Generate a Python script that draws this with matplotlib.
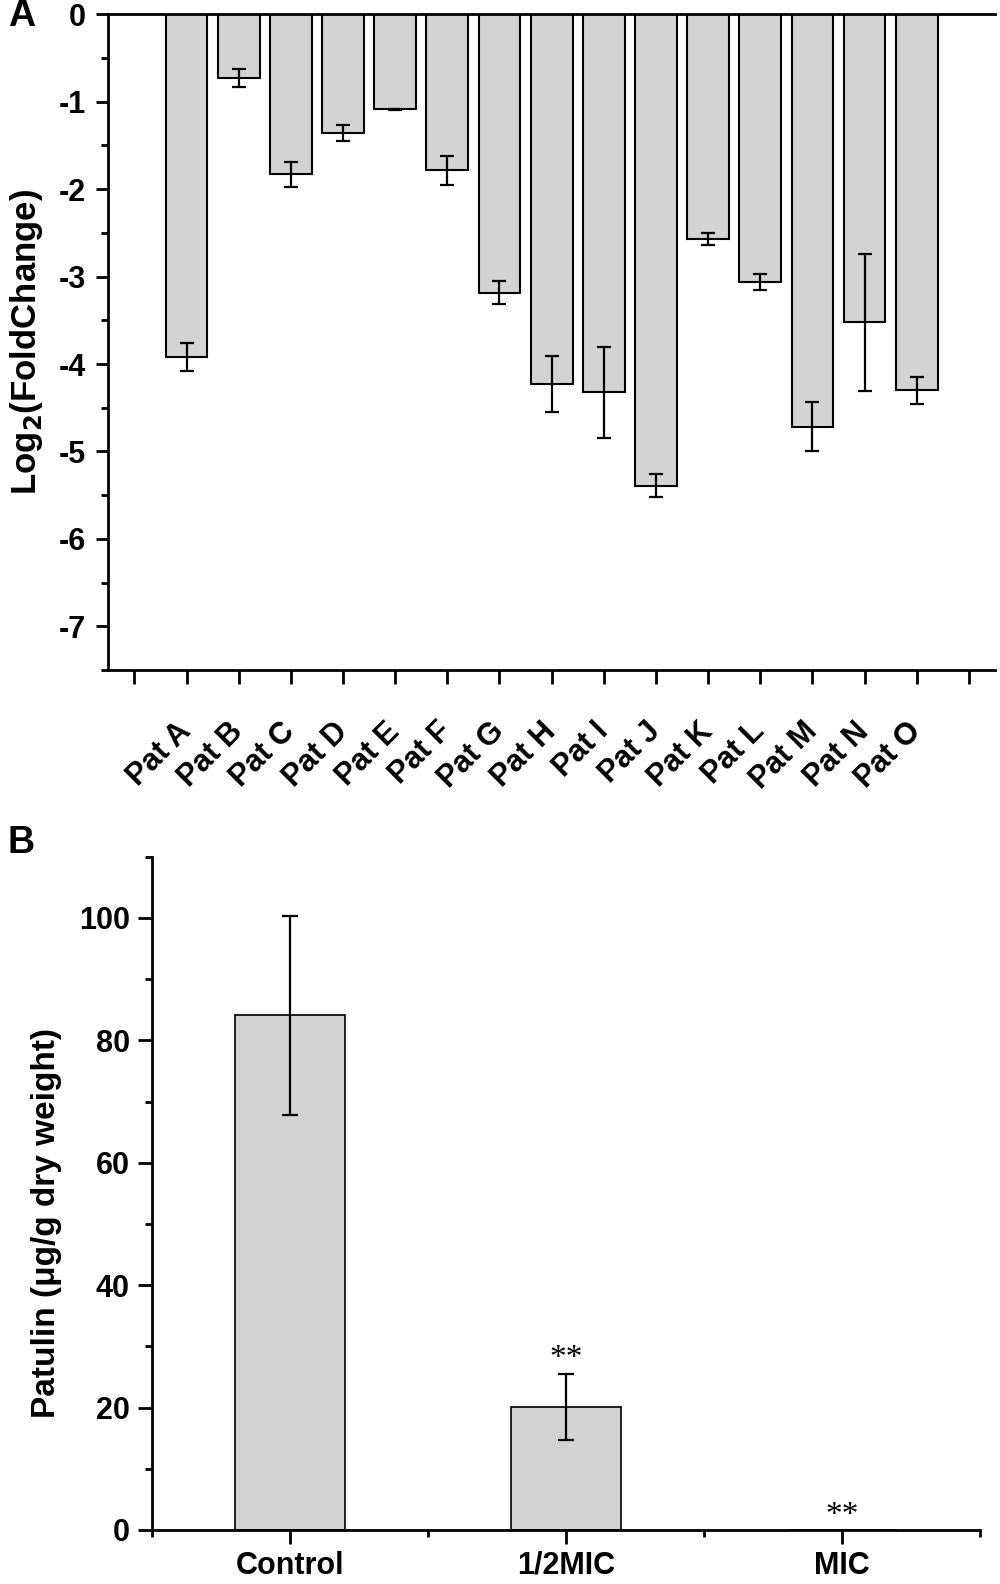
import matplotlib
matplotlib.use('Agg')
import matplotlib.pyplot as plt
import numpy as np

plt.rcParams.update({
    "font.family": ["Liberation Sans", "DejaVu Sans"],
    "font.weight": "bold",
    "axes.linewidth": 2.0,
})

# panel A: log2 fold change of patulin cluster genes
genes = ["Pat A", "Pat B", "Pat C", "Pat D", "Pat E", "Pat F", "Pat G", "Pat H",
         "Pat I", "Pat J", "Pat K", "Pat L", "Pat M", "Pat N", "Pat O"]
log2fc = [-3.92, -0.73, -1.83, -1.355, -1.085, -1.785, -3.185, -4.225,
          -4.325, -5.39, -2.57, -3.06, -4.72, -3.525, -4.30]
log2fc_err = [0.165, 0.10, 0.143, 0.09, 0.006, 0.168, 0.13, 0.32,
              0.52, 0.133, 0.067, 0.092, 0.28, 0.78, 0.153]

# panel B: patulin content
treatments = ["Control", "1/2MIC", "MIC"]
patulin = [84.1, 20.1, 0.0]
patulin_err = [16.3, 5.4, 0.0]
signif = ["", "**", "**"]

bar_color = "#d3d3d3"

fig = plt.figure(figsize=(10, 15.84), dpi=100)

# ---------------- panel A ----------------
axA = fig.add_axes([0.1083, 0.577, 0.8867, 0.414])
xA = np.arange(1, len(genes) + 1)
axA.bar(xA, log2fc, width=0.8, color=bar_color, edgecolor="black", linewidth=1.5)
axA.errorbar(xA, log2fc, yerr=log2fc_err, fmt="none", ecolor="black",
             elinewidth=1.6, capsize=5, capthick=1.6)
axA.set_xlim(-0.5, len(genes) + 1.5)
axA.set_ylim(-7.5, 0)
axA.set_yticks(np.arange(-7, 1, 1))
axA.set_yticks(np.arange(-7.5, 0, 1), minor=True)
axA.set_yticklabels([str(v) for v in range(-7, 1)])
axA.set_xticks(np.arange(0, len(genes) + 2))
axA.set_xticklabels([""] + genes + [""], rotation=45, ha="right", va="center",
                    rotation_mode="anchor")
axA.spines["right"].set_visible(False)
axA.tick_params(axis="y", which="major", direction="out", length=9, width=2,
                labelsize=22, pad=7)
axA.tick_params(axis="y", which="minor", direction="out", length=5, width=2)
axA.tick_params(axis="x", which="major", direction="out", length=10, width=2,
                labelsize=22, pad=31)
axA.set_ylabel("Log$_\\mathbf{2}$(FoldChange)", fontsize=25, fontweight="bold")
axA.yaxis.set_label_coords(-0.071, 0.5)
fig.text(0.008, 0.9896, "A", fontsize=27, fontweight="bold", va="center", ha="left")

# ---------------- panel B ----------------
axB = fig.add_axes([0.152, 0.0341, 0.828, 0.425])
xB = np.arange(1, len(treatments) + 1)
axB.bar(xB, patulin, width=0.4, color=bar_color, edgecolor="black", linewidth=1.2)
axB.errorbar(xB[:2], patulin[:2], yerr=patulin_err[:2], fmt="none", ecolor="black",
             elinewidth=1.6, capsize=6, capthick=1.6)
for x, v, e, s in zip(xB, patulin, patulin_err, signif):
    if s:
        axB.text(x, v + e + 2.4, s, ha="center", va="center", fontsize=24,
                 fontweight="normal", family=["Liberation Serif", "DejaVu Serif"])
axB.set_xlim(0.5, 3.5)
axB.set_ylim(0, 110)
axB.set_yticks(np.arange(0, 101, 20))
axB.set_yticks(np.arange(10, 111, 20), minor=True)
axB.set_xticks(xB)
axB.set_xticks(np.arange(0.5, 3.6, 1), minor=True)
axB.set_xticklabels(treatments)
axB.spines["right"].set_visible(False)
axB.spines["top"].set_visible(False)
axB.tick_params(axis="both", which="major", direction="out", length=10, width=2,
                labelsize=22)
axB.tick_params(axis="both", which="minor", direction="out", length=5, width=2)
axB.tick_params(axis="y", which="major", pad=6)
axB.tick_params(axis="x", which="major", pad=5)
axB.set_ylabel("Patulin (μg/g dry weight)", fontsize=24, fontweight="bold")
axB.yaxis.set_label_coords(-0.109, 0.456)
fig.text(0.008, 0.4675, "B", fontsize=27, fontweight="bold", va="center", ha="left")

fig.savefig("out.png", dpi=100)
